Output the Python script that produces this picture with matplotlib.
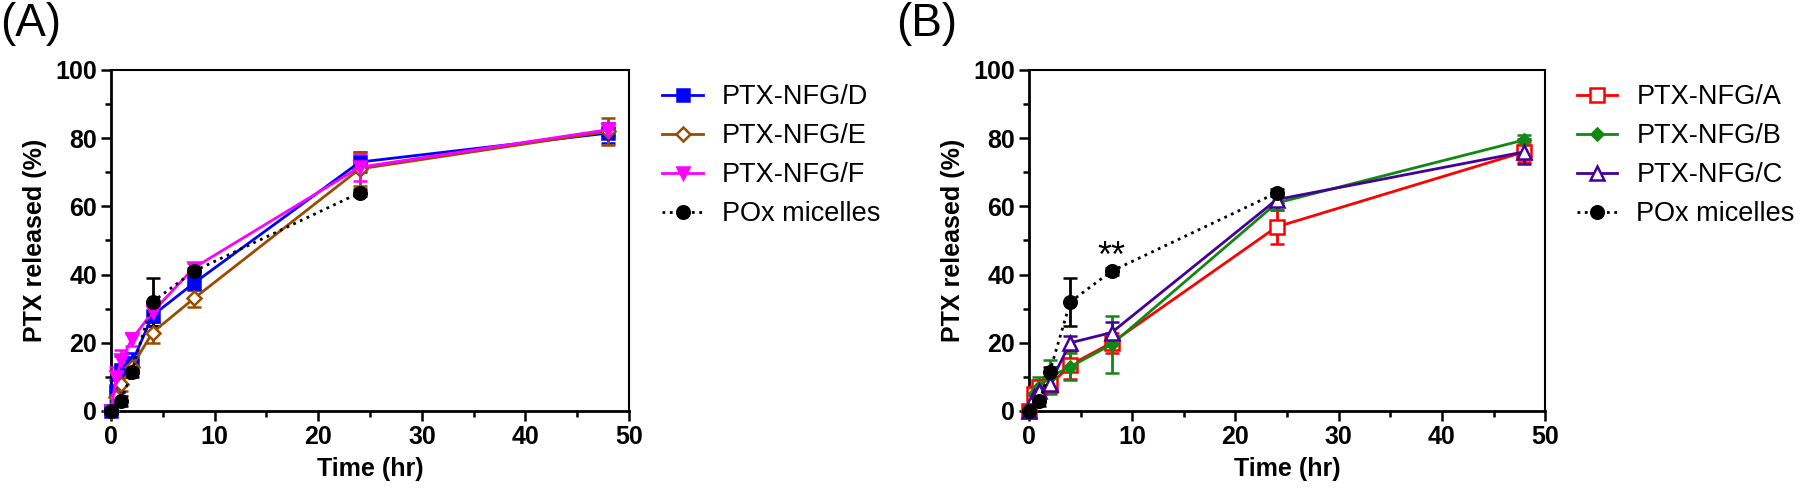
import matplotlib
matplotlib.use("Agg")
import matplotlib.pyplot as plt
from matplotlib.ticker import MultipleLocator

plt.rcParams['font.family'] = ['Liberation Sans', 'DejaVu Sans']

# ---------------- data ----------------
time = [0, 0.5, 1, 2, 4, 8, 24, 48]
time_pox = [0, 1, 2, 4, 8, 24]

# Panel A
d_mean = [0, 6, 12, 14, 28, 37.5, 73, 81.5]
d_err = [1, 3, 4, 3, 3, 2, 3, 3]
e_mean = [0, 4, 8, 13, 23, 33, 71, 82]
e_err = [1, 2, 2, 2, 3, 2.5, 5, 4]
f_mean = [0, 10, 15, 21, 29, 42, 71.5, 82.5]
f_err = [1, 3, 3, 2, 3, 1.5, 4, 2]

# Panel B
a_mean = [0, 5, 7, 7.5, 13.5, 20, 54, 76]
a_err = [1, 2, 2, 2, 4, 3, 5, 3]
b_mean = [0, 5, 7, 10, 13, 19.5, 61, 79.5]
b_err = [1, 2, 3, 5, 4, 8.5, 2, 1.5]
c_mean = [0, 4, 6, 8, 20, 23, 62, 76]
c_err = [1, 2, 2, 2, 2, 3, 2, 3.7]

# POx micelles (shared)
pox_mean = [0, 3, 11.5, 32, 41, 64]
pox_err = [0.5, 1.5, 1.5, 7, 1, 1]

labels_a = ['PTX-NFG/D', 'PTX-NFG/E', 'PTX-NFG/F', 'POx micelles']
labels_b = ['PTX-NFG/A', 'PTX-NFG/B', 'PTX-NFG/C', 'POx micelles']

# ---------------- figure ----------------
fig = plt.figure(figsize=(18, 4.96), dpi=100)
axA = fig.add_axes([0.0617, 0.1714, 0.2878, 0.6875])
axB = fig.add_axes([0.5717, 0.1714, 0.2867, 0.6875])

LW = 2.0
CAP = 5
MS = 9


def series(ax, x, y, err, color, marker, label, mfc=None, ls='-', ms=MS):
    cont = ax.errorbar(x, y, yerr=err, color=color, ecolor=color, marker=marker,
                       markersize=ms, markerfacecolor=(mfc if mfc else color),
                       markeredgecolor=color, markeredgewidth=1.8, linestyle=ls,
                       linewidth=LW, capsize=CAP, capthick=LW, elinewidth=LW,
                       label=label, clip_on=False, zorder=3)
    return cont[0]


def style(ax):
    ax.set_xlim(0, 50)
    ax.set_ylim(0, 100)
    ax.xaxis.set_major_locator(MultipleLocator(10))
    ax.xaxis.set_minor_locator(MultipleLocator(5))
    ax.yaxis.set_major_locator(MultipleLocator(20))
    ax.yaxis.set_minor_locator(MultipleLocator(10))
    ax.tick_params(which='major', direction='out', length=7, width=1.8,
                   labelsize=18, pad=3)
    ax.tick_params(which='minor', direction='out', length=4, width=1.8)
    for lab in ax.get_xticklabels() + ax.get_yticklabels():
        lab.set_fontweight('bold')
    for s in ['left', 'bottom']:
        ax.spines[s].set_linewidth(2.0)
    for s in ['top', 'right']:
        ax.spines[s].set_linewidth(1.5)
    ax.set_xlabel('Time (hr)', fontsize=18, fontweight='bold', labelpad=6)
    ax.set_ylabel('PTX released (%)', fontsize=18, fontweight='bold', labelpad=6)


# Panel A
hA = [
    series(axA, time, d_mean, d_err, '#0000FF', 's', labels_a[0]),
    series(axA, time, e_mean, e_err, '#994C00', 'D', labels_a[1], mfc='white', ms=7),
    series(axA, time, f_mean, f_err, '#FF00FF', 'v', labels_a[2]),
    series(axA, time_pox, pox_mean, pox_err, '#000000', 'o', labels_a[3], ls=':'),
]
style(axA)

# Panel B
hB = [
    series(axB, time, a_mean, a_err, '#FF0000', 's', labels_b[0], mfc='white', ms=10),
    series(axB, time, b_mean, b_err, '#118811', 'D', labels_b[1], ms=6),
    series(axB, time, c_mean, c_err, '#440099', '^', labels_b[2], mfc='white', ms=10),
    series(axB, time_pox, pox_mean, pox_err, '#000000', 'o', labels_b[3], ls=':'),
]
style(axB)
axB.text(8, 40, '**', fontsize=26, ha='center', va='bottom')

for ax, handles, labels, x in [(axA, hA, labels_a, 0.368), (axB, hB, labels_b, 0.876)]:
    ax.legend(handles, labels, loc='upper left', bbox_to_anchor=(x, 0.83),
              bbox_transform=fig.transFigure, frameon=False, fontsize=19.5,
              handlelength=1.5, handletextpad=0.7, labelspacing=0.48,
              borderpad=0, borderaxespad=0)

fig.text(0.0, 0.995, '(A)', fontsize=33, ha='left', va='top')
fig.text(0.498, 0.995, '(B)', fontsize=33, ha='left', va='top')

fig.savefig('out.png', dpi=100)
